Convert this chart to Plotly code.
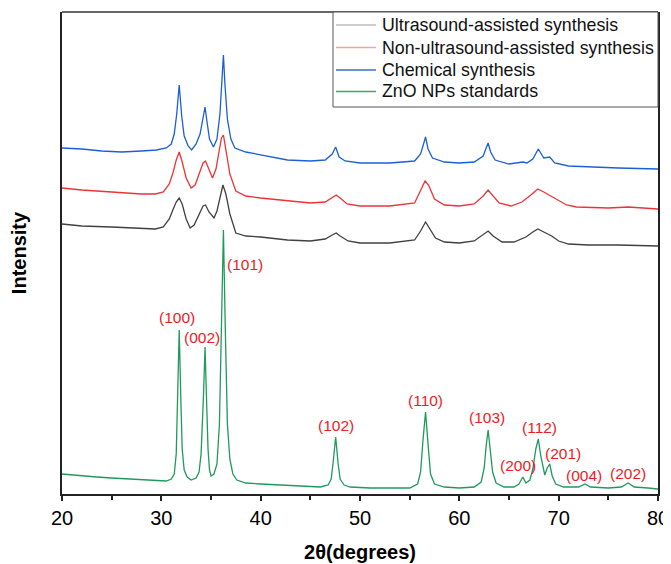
import plotly.graph_objects as go

# ---------------- data (2θ in degrees, intensity in a.u., stacked) ----------------
zno_x = [20.0, 21.0, 22.0, 23.5, 25.0, 26.5, 28.0, 29.5, 30.5, 31.0, 31.3, 31.5, 31.65, 31.8, 31.95, 32.1, 32.3,
         32.6, 33.0, 33.5, 33.8, 34.0, 34.25, 34.4, 34.55, 34.7, 34.85, 35.0, 35.3, 35.6, 35.85, 36.05, 36.25,
         36.45, 36.65, 36.9, 37.2, 37.6, 38.5, 40.0, 42.0, 44.0, 46.0, 46.8, 47.1, 47.3, 47.55, 47.8, 48.0,
         48.4, 49.0, 51.0, 53.0, 55.0, 55.8, 56.1, 56.35, 56.6, 56.85, 57.1, 57.5, 58.5, 60.0, 61.5, 62.2,
         62.5, 62.7, 62.9, 63.1, 63.35, 63.7, 64.5, 65.5, 66.0, 66.4, 66.7, 67.1, 67.4, 67.7, 67.95, 68.2,
         68.6, 68.85, 69.1, 69.35, 69.7, 70.5, 72.0, 72.65, 73.2, 75.0, 76.3, 77.0, 77.6, 79.0, 80.0]
zno_y = [20, 19, 18, 17, 16, 15, 14, 13, 13, 15, 20, 40, 100, 164, 100, 45, 24,
         17, 14, 16, 22, 40, 100, 147, 95, 45, 24, 18, 20, 30, 70, 170, 264,
         160, 70, 35, 20, 14, 11, 10, 9, 8, 7, 9, 15, 32, 57, 30, 15,
         9, 7, 6, 6, 6, 10, 22, 55, 82, 50, 20, 10, 7, 6, 7, 12,
         26, 48, 64, 45, 22, 11, 7, 7, 10, 17, 11, 14, 25, 45, 55, 38,
         19, 26, 30, 18, 10, 7, 7, 10, 7, 6, 7, 11, 7, 6, 5]

chem_x = [20.0, 22.0, 25.0, 28.0, 29.4, 30.2, 30.8, 31.2, 31.5, 31.8, 32.1, 32.5, 32.9, 33.3, 33.8, 34.2, 34.45,
          34.8, 35.3, 35.6, 35.9, 36.2, 36.5, 36.9, 37.5, 38.5, 40.0, 42.7, 45.0, 46.5, 47.2, 47.6, 48.0,
          48.8, 50.0, 53.0, 55.5, 56.1, 56.6, 57.0, 57.6, 58.5, 60.0, 61.5, 62.4, 62.9, 63.4, 64.3, 65.5,
          66.7, 67.4, 67.9, 68.5, 69.3, 70.0, 71.0, 73.0, 76.0, 80.0]
chem_y = [270, 268, 267, 266, 265, 267, 275, 285, 292, 296, 290, 275, 266, 269, 280, 288, 289,
          282, 276, 283, 296, 309, 300, 280, 261, 258, 257, 254, 253, 255, 259, 261, 258,
          253, 251, 251, 254, 263, 272, 266, 256, 252, 251, 253, 259, 263, 258, 252, 252,
          257, 262, 265, 262, 258, 253, 250, 249, 249, 248]

nonus_x = [20.0, 22.0, 25.0, 28.0, 29.4, 30.2, 30.8, 31.2, 31.5, 31.8, 32.1, 32.5, 33.0, 33.4, 33.8, 34.2, 34.45,
           34.8, 35.15, 35.5, 35.8, 36.05, 36.25, 36.5, 36.9, 37.5, 38.5, 40.0, 42.7, 45.0, 46.5, 47.2, 47.6,
           48.0, 48.7, 50.0, 53.0, 55.5, 56.1, 56.55, 56.9, 57.5, 58.5, 60.0, 61.5, 62.4, 62.9, 63.3, 64.0,
           65.2, 66.3, 67.2, 67.9, 68.5, 69.2, 69.8, 70.8, 71.8, 75.0, 77.0, 80.0]
nonus_y = [306, 304, 302, 300, 300, 302, 310, 322, 334, 342, 332, 316, 306, 309, 320, 331, 333,
           325, 316, 325, 342, 356, 359, 345, 320, 303, 298, 296, 293, 291, 292, 297, 299,
           296, 290, 288, 288, 291, 303, 313, 309, 295, 289, 288, 290, 298, 304, 299, 291,
           288, 292, 299, 305, 302, 298, 294, 289, 287, 286, 287, 285]

us_x = [20.0, 22.0, 24.0, 26.0, 28.0, 29.5, 30.5, 31.0, 31.3, 31.55, 31.8, 32.05, 32.3, 32.7, 33.05, 33.5, 33.9,
        34.2, 34.4, 34.6, 34.85, 35.25, 35.6, 35.9, 36.1, 36.25, 36.4, 36.65, 37.0, 37.4, 38.5, 40.0, 42.7,
        45.0, 46.5, 47.2, 47.55, 47.9, 48.5, 50.0, 53.0, 55.5, 56.1, 56.4, 56.6, 56.85, 57.3, 58.5, 60.0,
        61.5, 62.4, 62.7, 62.9, 63.15, 63.6, 65.0, 66.0, 66.4, 66.8, 67.4, 67.95, 68.5, 69.1, 69.6, 71.0,
        73.0, 76.0, 80.0]
us_y = [346, 345, 343, 342, 343, 344, 346, 350, 360, 380, 409, 378, 358, 348, 344, 350, 360,
        375, 387, 372, 355, 347, 355, 380, 415, 439, 410, 375, 355, 346, 342, 339, 334,
        333, 334, 340, 347, 337, 333, 331, 331, 333, 340, 350, 357, 345, 336, 332, 331,
        332, 338, 346, 351, 342, 334, 330, 331, 332, 331, 335, 345, 336, 337, 331, 328,
        327, 326, 325]

# line colours of the four patterns
us_color = "#1c5fd4"
nonus_color = "#ec3338"
chem_color = "#404040"
zno_color = "#1f9a5e"

# legend entries as they appear in the figure
legend_names = ["Ultrasound-assisted synthesis", "Non-ultrasound-assisted synthesis",
                "Chemical synthesis", "ZnO NPs standards"]
legend_colors = ["#bdbdbd", "#f4a3a3", "#3a6fcf", "#3fa66d"]

# Miller-index labels of the ZnO standard peaks
hkl_labels = ["(100)", "(002)", "(101)", "(102)", "(110)", "(103)", "(200)", "(112)", "(201)", "(004)", "(202)"]
hkl_x = [31.6, 34.06, 38.42, 47.56, 56.6, 62.82, 65.88, 68.02, 70.47, 72.58, 76.95]
hkl_y = [177, 157, 230, 69, 94, 77, 29, 67, 41, 19, 21]

x_ticks = [20, 30, 40, 50, 60, 70, 80]

# ---------------- figure ----------------
fig = go.Figure()
for name, xs, ys, col in [("ZnO NPs standards", zno_x, zno_y, zno_color),
                          ("Chemical synthesis", chem_x, chem_y, chem_color),
                          ("Non-ultrasound-assisted synthesis", nonus_x, nonus_y, nonus_color),
                          ("Ultrasound-assisted synthesis", us_x, us_y, us_color)]:
    fig.add_trace(go.Scatter(x=xs, y=ys, mode="lines", name=name, line=dict(color=col, width=1.3),
                             showlegend=False))

for t, xv, yv in zip(hkl_labels, hkl_x, hkl_y):
    fig.add_annotation(x=xv, y=yv, text=t, showarrow=False, xref="x", yref="y",
                       font=dict(family="Liberation Sans, Arial", size=15.5, color="#ee1c24"))

# thin top frame line
fig.add_shape(type="line", xref="paper", yref="paper", x0=0, x1=1, y0=1, y1=1,
              line=dict(color="#333333", width=1.3))

# legend box drawn as shapes + annotations (paper coordinates)
leg_x0, leg_y0 = 0.4547, 0.8029
fig.add_shape(type="rect", xref="paper", yref="paper", x0=leg_x0, x1=1.0, y0=leg_y0, y1=1.0,
              fillcolor="white", line=dict(color="#555555", width=1), layer="above")
row_y = [0.973, 0.9263, 0.8797, 0.8351]
for name, col, ry in zip(legend_names, legend_colors, row_y):
    fig.add_shape(type="line", xref="paper", yref="paper", x0=0.4597, x1=0.5268, y0=ry, y1=ry,
                  line=dict(color=col, width=1.3), layer="above")
    fig.add_annotation(x=0.5336, y=ry, xref="paper", yref="paper", text=name, showarrow=False,
                       xanchor="left", yanchor="middle",
                       font=dict(family="Liberation Sans, Arial", size=17.8, color="#111111"))

# the page body adds an 8 px margin, so the figure is 8 px smaller than the window
fig.update_layout(
    width=663, height=556,
    margin=dict(l=54, r=13, t=4, b=70, autoexpand=False),
    plot_bgcolor="white", paper_bgcolor="white",
    font=dict(family="Liberation Sans, Arial", color="black"),
    showlegend=False,
    xaxis=dict(range=[20, 80], tickvals=x_ticks, ticktext=[str(v) for v in x_ticks],
               showline=True, linewidth=2, linecolor="#222222", mirror=False,
               ticks="outside", ticklen=5, tickwidth=1.5, tickcolor="#222222",
               minor=dict(dtick=5, ticks="outside", ticklen=4, tickwidth=1.5, tickcolor="#222222"),
               showgrid=False, zeroline=False, tickfont=dict(size=20), automargin=False,
               title=dict(text="<b>2θ(degrees)</b>", font=dict(size=20), standoff=17)),
    yaxis=dict(range=[0, 482], showline=True, linewidth=2, linecolor="#222222", mirror=True,
               ticks="", showticklabels=False, showgrid=False, zeroline=False, automargin=False,
               title=dict(text="<b>Intensity</b>", font=dict(size=20), standoff=28)),
)

fig.write_html("out.html")
